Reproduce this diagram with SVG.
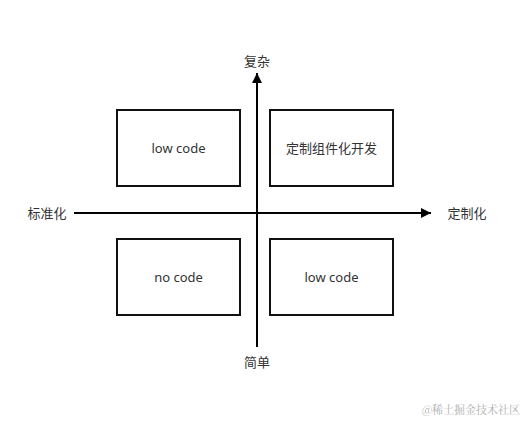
<svg xmlns="http://www.w3.org/2000/svg" width="525" height="429" viewBox="0 0 525 429">
<style>
.box{fill:#fff;stroke:#111;stroke-width:2}
.t{font-family:"Noto Sans","Noto Sans CJK SC",sans-serif;font-size:13px;fill:#333;text-anchor:middle;dominant-baseline:central}
.ax{stroke:#000;stroke-width:2;fill:none}
</style>
<defs>
<marker id="ah" viewBox="0 0 10 10" refX="10" refY="5" markerWidth="5" markerHeight="5" orient="auto" markerUnits="strokeWidth">
<path d="M0,0 L10,5 L0,10 Z" fill="#000"/>
</marker>
</defs>
<rect width="525" height="429" fill="#fff"/>
<g id="connectors">
<line class="ax" x1="257" y1="347" x2="257" y2="73" marker-end="url(#ah)"/>
<line class="ax" x1="74" y1="213" x2="431" y2="213" marker-end="url(#ah)"/>
</g>
<g id="n1"><rect class="box" x="117" y="110" width="123" height="76"/><text class="t" x="178.5" y="148">low code</text></g>
<g id="n2"><rect class="box" x="270" y="110" width="123" height="76"/><text class="t" x="331.5" y="148">定制组件化开发</text></g>
<g id="n3"><rect class="box" x="117" y="239" width="123" height="76"/><text class="t" x="178.5" y="277">no code</text></g>
<g id="n4"><rect class="box" x="270" y="239" width="123" height="76"/><text class="t" x="331.5" y="277">low code</text></g>
<g id="labels">
<text class="t" x="257" y="61">复杂</text>
<text class="t" x="257" y="362">简单</text>
<text class="t" x="47" y="213">标准化</text>
<text class="t" x="467" y="213">定制化</text>
<text x="520" y="409" font-family="'Noto Serif CJK SC','Noto Sans CJK SC',serif" font-size="11" fill="#b0b0b0" text-anchor="end" dominant-baseline="central">@稀土掘金技术社区</text>
</g>
</svg>
